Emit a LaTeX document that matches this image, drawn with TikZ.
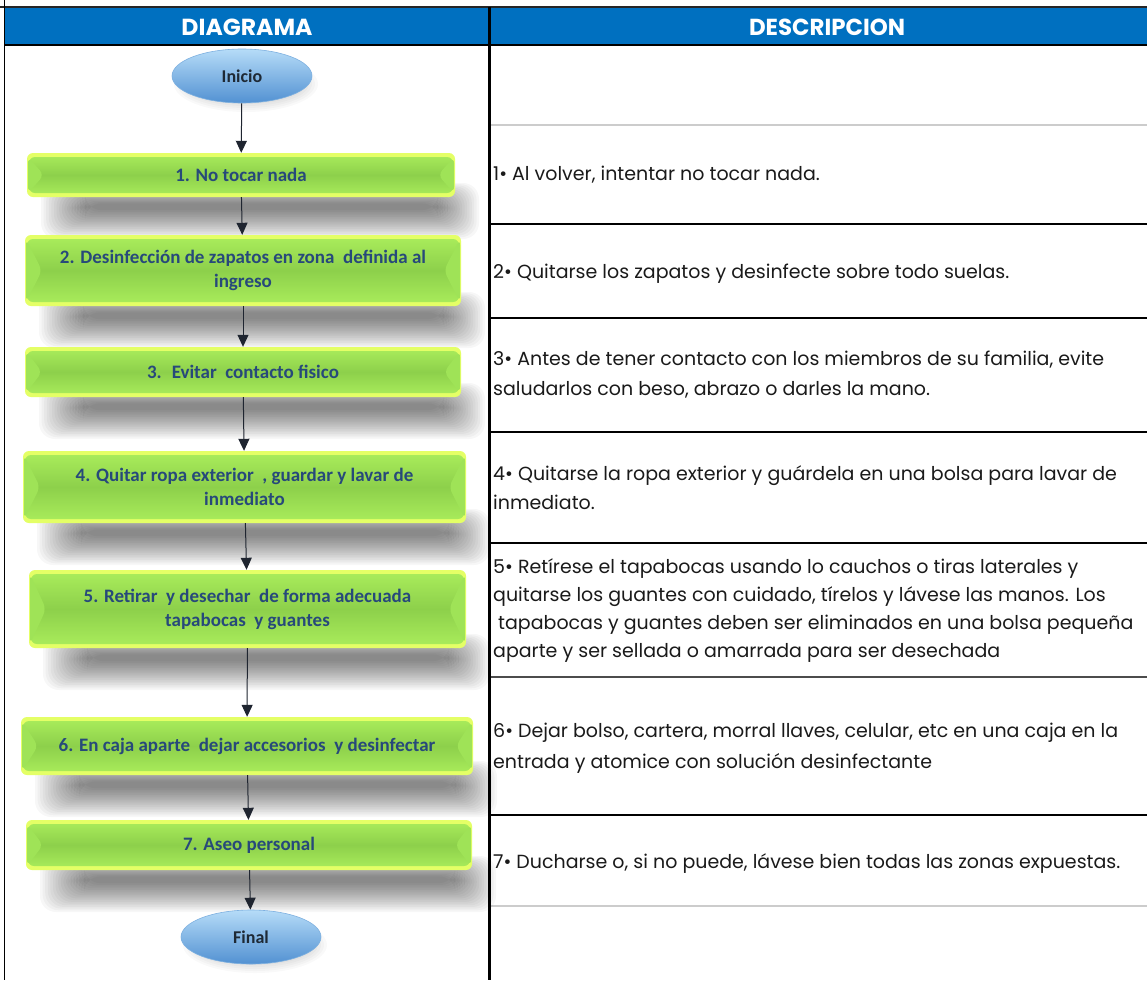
\documentclass[tikz,border=0pt]{standalone}
\usepackage{fontspec}
\setmainfont{Poppins}
\newfontfamily\calfont{Carlito}
\usetikzlibrary{shapes.geometric,arrows.meta}
\definecolor{hdrblue}{HTML}{0070C0}
\definecolor{ybright}{HTML}{E4FF66}
\definecolor{ylight}{HTML}{ABEE5C}
\definecolor{gmid}{HTML}{8DD04B}
\definecolor{gfacet}{HTML}{9FE357}
\definecolor{stepblue}{HTML}{27497A}
\definecolor{ovtop}{HTML}{B6DCF8}
\definecolor{ovbot}{HTML}{5291D2}
\definecolor{ovedge}{HTML}{7DB0E0}
\definecolor{ovtext}{HTML}{1E2935}
\definecolor{arrowc}{HTML}{1F2530}
\definecolor{txt}{HTML}{1A1A1A}
\definecolor{rowgray}{HTML}{CCCCCC}
\newcommand\boxshadow[3]{%
  \foreach \k in {0,...,17}{%
    \fill[black,opacity=0.03,rounded corners=16pt]
      (#1+14+\k*2.6, #3-14+\k*1.2) rectangle (#2+24-\k*2.4, #3+42-\k*1.7);}}
\newcommand\ovalshadow[2]{%
  \foreach \k in {0,...,6}{%
    \fill[black,opacity=0.025] (#1+4, #2+8) ellipse ({72-\k*3} and {28-\k*2});}}
\begin{document}
\begin{tikzpicture}[x=1pt,y=-1pt,
  stepbox/.style={rectangle, rounded corners=6pt, fill=ybright, inner sep=0pt,
    font=\calfont\bfseries\fontsize{19}{24}\selectfont, text=stepblue, align=center,
    path picture={
      \path[top color=ylight, bottom color=ylight, middle color=gmid]
        ([shift={(2pt,-4pt)}]path picture bounding box.north west) rectangle
        ([shift={(-2pt,4pt)}]path picture bounding box.south east);
      \fill[gfacet] ([shift={(1pt,-4pt)}]path picture bounding box.north west) --
        ([xshift=17pt]path picture bounding box.west) --
        ([shift={(1pt,4pt)}]path picture bounding box.south west) -- cycle;
      \fill[gfacet] ([shift={(-1pt,-4pt)}]path picture bounding box.north east) --
        ([xshift=-17pt]path picture bounding box.east) --
        ([shift={(-1pt,4pt)}]path picture bounding box.south east) -- cycle;
    }},
  oval/.style={ellipse, minimum width=140pt, minimum height=54pt, inner sep=0pt,
    top color=ovtop, bottom color=ovbot, draw=ovedge, line width=0.6pt,
    font=\calfont\bfseries\fontsize{18}{20}\selectfont, text=ovtext},
  arr/.style={draw=arrowc, line width=1pt, -{Triangle[width=11pt,length=12pt]}},
  rtext/.style={anchor=base west, inner sep=0pt, text=txt, font=\fontsize{19}{22}\selectfont},
  hdr/.style={inner sep=0pt, text=white, font=\bfseries},
  thick line/.style={line width=2.5pt, draw=black},
  thin row/.style={line width=1.5pt, draw=rowgray}
]
\useasboundingbox (0,0) rectangle (1147,980);
\fill[white] (0,0) rectangle (1147,980);

% header
\fill[hdrblue] (5,8) rectangle (1147,44);
\draw[line width=2pt, black!85] (0,7) -- (1147,7);
\draw[line width=2.5pt] (5,45) -- (1147,45);
\node[hdr] (h1) at (247,27) {\resizebox{131pt}{16.5pt}{DIAGRAMA}};
\node[hdr] (h2) at (827,27) {\resizebox{156pt}{16.5pt}{DESCRIPCION}};

% right column row lines
\draw[thin row] (489,125) -- (1147,125);
\draw[thick line] (489,224) -- (1147,224);
\draw[thick line] (489,318) -- (1147,318);
\draw[thick line] (489,432) -- (1147,432);
\draw[thick line] (489,543) -- (1147,543);
\draw[line width=2pt, draw=black!70] (489,677) -- (1147,677);
\draw[thick line] (489,815) -- (1147,815);
\draw[thin row] (489,906) -- (1147,906);

% shadows
\ovalshadow{242}{76}
\boxshadow{27}{455}{197}
\boxshadow{25}{461}{306}
\boxshadow{25}{461}{397}
\boxshadow{23}{466}{523}
\boxshadow{29}{466}{648}
\boxshadow{21}{473}{775}
\boxshadow{26}{472}{870}
\ovalshadow{251}{937}

% vertical frame lines
\draw[line width=1.5pt] (4.5,0) -- (4.5,980);
\draw[line width=3pt] (489,7) -- (489,980);

% flowchart nodes
\node[oval] (inicio) at (242,76) {Inicio};
\node[stepbox, minimum width=428pt, minimum height=44pt] (b1) at (241,175) {1. No tocar nada};
\node[stepbox, minimum width=436pt, minimum height=71pt] (b2) at (243,270.5) {2. Desinfección de zapatos en zona \ definida al\\ ingreso};
\node[stepbox, minimum width=436pt, minimum height=50pt] (b3) at (243,372) {3. \ Evitar \ contacto fisico};
\node[stepbox, minimum width=443pt, minimum height=72pt] (b4) at (244.5,487) {4. Quitar ropa exterior \ , guardar y lavar de\\ inmediato};
\node[stepbox, minimum width=437pt, minimum height=78pt] (b5) at (247.5,609) {5. Retirar \ y desechar \ de forma adecuada\\ tapabocas \ y guantes};
\node[stepbox, minimum width=452pt, minimum height=58pt] (b6) at (247,746) {6. En caja aparte \ dejar accesorios \ y desinfectar};
\node[stepbox, minimum width=446pt, minimum height=50pt] (b7) at (249,845) {7. Aseo personal};
\node[oval] (final) at (251,937) {Final};

% connectors
\draw[arr] (inicio) -- (b1);
\draw[arr] (b1) -- (b2);
\draw[arr] (b2) -- (b3);
\draw[arr] (b3) -- (b4);
\draw[arr] (b4) -- (b5);
\draw[arr] (b5) -- (b6);
\draw[arr] (b6) -- (b7);
\draw[arr] (b7) -- (final);

% descriptions
\node[rtext] (t1) at (493,180) {1• Al volver, intentar no tocar nada.};
\node[rtext] (t2) at (493,278) {2• Quitarse los zapatos y desinfecte sobre todo suelas.};
\node[rtext] (t3a) at (493,365) {3• Antes de tener contacto con los miembros de su familia, evite};
\node[rtext] (t3b) at (493,395) {saludarlos con beso, abrazo o darles la mano.};
\node[rtext] (t4a) at (493,480) {4• Quitarse la ropa exterior y guárdela en una bolsa para lavar de};
\node[rtext] (t4b) at (493,509) {inmediato.};
\node[rtext] (t5a) at (493,573) {5• Retírese el tapabocas usando lo cauchos o tiras laterales y};
\node[rtext] (t5b) at (493,601) {quitarse los guantes con cuidado, tírelos y lávese las manos. Los};
\node[rtext] (t5c) at (498,629) {tapabocas y guantes deben ser eliminados en una bolsa pequeña};
\node[rtext] (t5d) at (493,657) {aparte y ser sellada o amarrada para ser desechada};
\node[rtext] (t6a) at (493,737) {6• Dejar bolso, cartera, morral llaves, celular, etc en una caja en la};
\node[rtext] (t6b) at (493,768) {entrada y atomice con solución desinfectante};
\node[rtext] (t7) at (493,868) {7• Ducharse o, si no puede, lávese bien todas las zonas expuestas.};
\end{tikzpicture}
\end{document}
